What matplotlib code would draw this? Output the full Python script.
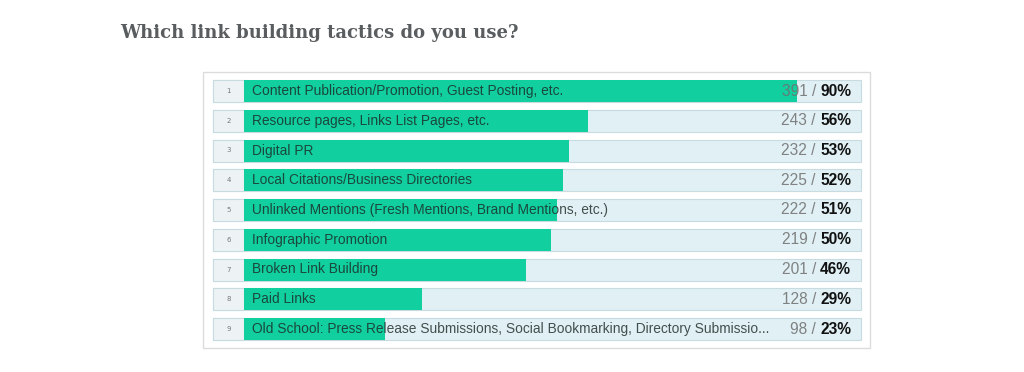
"""
Survey results: which link building tactics do you use?
Horizontal progress-style bars, one row per tactic.
"""

import matplotlib
matplotlib.use("Agg")
import matplotlib.pyplot as plt
from matplotlib.patches import Rectangle

# data
tactics = [
    "Content Publication/Promotion, Guest Posting, etc.",
    "Resource pages, Links List Pages, etc.",
    "Digital PR",
    "Local Citations/Business Directories",
    "Unlinked Mentions (Fresh Mentions, Brand Mentions, etc.)",
    "Infographic Promotion",
    "Broken Link Building",
    "Paid Links",
    "Old School: Press Release Submissions, Social Bookmarking, Directory Submissio...",
]
counts = [391, 243, 232, 225, 222, 219, 201, 128, 98]
percents = [90, 56, 53, 52, 51, 50, 46, 29, 23]
title = "Which link building tactics do you use?"

BAR = "#12cf9f"
ROW_BG = "#e1f0f4"
ROW_EDGE = "#c8dbe1"
NUM_BG = "#edf3f5"

W, H = 1024, 372
fig = plt.figure(figsize=(W / 100, H / 100), dpi=100)
fig.patch.set_facecolor("white")

fig.text(120 / W, 1 - 33 / H, title, fontsize=13, fontweight="bold",
         family="DejaVu Serif", color="#5a5d5f", va="center", ha="left")

# panel: x 203..870 px, y 72..348 px ; track 244..858 px = 0..100 %
px = 6.14  # pixels per percent
x_left = -(244 - 203) / px
x_right = (870 - 244) / px
pitch = 29.75
y_top = (72 - 91) / pitch
y_bot = (348 - 91) / pitch

ax = fig.add_axes([203 / W, 1 - 348 / H, (870 - 203) / W, (348 - 72) / H])
ax.set_xlim(x_left, x_right)
ax.set_ylim(y_bot, y_top)
ax.axis("off")

# panel frame
ax.add_patch(Rectangle((x_left, y_top), x_right - x_left, y_bot - y_top,
                       facecolor="white", edgecolor="#dcdcdc", lw=1.0,
                       zorder=0, clip_on=False))

row_h = 22 / pitch
num_w = 31 / px
row_right = (861 - 244) / px
for i in range(len(tactics)):
    ax.add_patch(Rectangle((-num_w, i - row_h / 2), row_right + num_w, row_h,
                           facecolor=ROW_BG, edgecolor=ROW_EDGE, lw=0.8, zorder=1))
    ax.add_patch(Rectangle((-num_w, i - row_h / 2), num_w, row_h,
                           facecolor=NUM_BG, edgecolor=ROW_EDGE, lw=0.8, zorder=2))
    ax.text(-num_w / 2, i, str(i + 1), fontsize=5, color="#777777",
            ha="center", va="center", zorder=4)

ax.barh(range(len(tactics)), percents, height=row_h, left=0, color=BAR, zorder=3)

for i, label in enumerate(tactics):
    ax.text(8 / px, i, label, fontsize=9.9, family="Liberation Sans",
            color="#1c2624", alpha=0.8, ha="left", va="center", zorder=4)

fig.canvas.draw()
renderer = fig.canvas.get_renderer()
inv = ax.transData.inverted()
for i, (c, p) in enumerate(zip(counts, percents)):
    t = ax.text(851 / px - 244 / px, i, f"{p}%", fontsize=11.2, fontweight="bold",
                family="Liberation Sans", color="#111111",
                ha="right", va="center", zorder=5)
    bb = t.get_window_extent(renderer)
    x0 = inv.transform((bb.x0, 0))[0]
    ax.text(x0, i, f"{c} / ", fontsize=11.2, family="Liberation Sans",
            color="#6e6e6e", alpha=0.85, ha="right", va="center", zorder=5)

fig.savefig("out.png", dpi=100, facecolor="white")
